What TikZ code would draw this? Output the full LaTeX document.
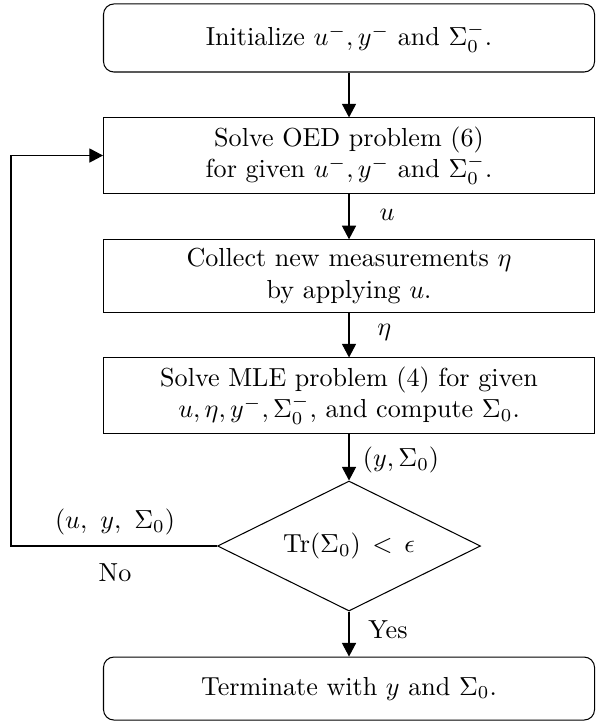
\documentclass[tikz,border=0pt]{standalone}
\usetikzlibrary{shapes.geometric, arrows.meta}
\begin{document}
\begin{tikzpicture}[>={Triangle[length=5.2pt, width=5.4pt]}]
        \tikzset{
            stepbox/.style = {draw, rectangle, minimum width = 6.618cm, align = center},
            endbox/.style = {stepbox, rounded corners = 4pt},
            testbox/.style = {draw, diamond, aspect = 2.02, minimum width = 3.545cm, minimum height = 1.752cm, inner sep = 0pt}
        }
        \useasboundingbox (0, 0) rectangle (8.10, -9.731);

        \node[endbox, minimum height = 0.917cm] (init) at (4.704, -0.512) {Initialize $u^{-}, y^{-}$ and $\Sigma_0^{-}$.};
        \node[stepbox, minimum height = 1.011cm] (oed) at (4.704, -2.096) {Solve OED problem (6)\\ for given $u^{-}, y^{-}$ and $\Sigma_0^{-}$.};
        \node[stepbox, minimum height = 0.970cm] (meas) at (4.704, -3.720) {Collect new measurements $\eta$\\ by applying $u$.};
        \node[stepbox, minimum height = 1.011cm] (mle) at (4.704, -5.331) {Solve MLE problem (4) for given\\ $u, \eta, y^{-}, \Sigma_0^{-}$, and compute $\Sigma_0$.};
        \node[testbox] (test) at (4.704, -7.359) {$\mathrm{Tr}(\Sigma_0) \, < \, \epsilon$};
        \node[endbox, minimum height = 0.849cm] (stop) at (4.704, -9.280) {Terminate with $y$ and $\Sigma_0$.};

        \draw[->] (init) -- (oed);
        \draw[->] (oed) -- (meas);
        \draw[->] (meas) -- (mle);
        \draw[->] (mle) -- (test);
        \draw[->] (test) -- (stop);
        \draw[->] (test.west) -- ++(-2.776, 0) |- (oed.west);

        \node at (5.216, -2.898) {$u$};
        \node at (5.18, -4.475) {$\eta$};
        \node at (5.405, -6.200) {$(y, \Sigma_0)$};
        \node at (1.550, -7.036) {$(u,\ y,\ \Sigma_0)$};
        \node at (1.550, -7.723) {No};
        \node at (5.229, -8.491) {Yes};

    \end{tikzpicture}
\end{document}
